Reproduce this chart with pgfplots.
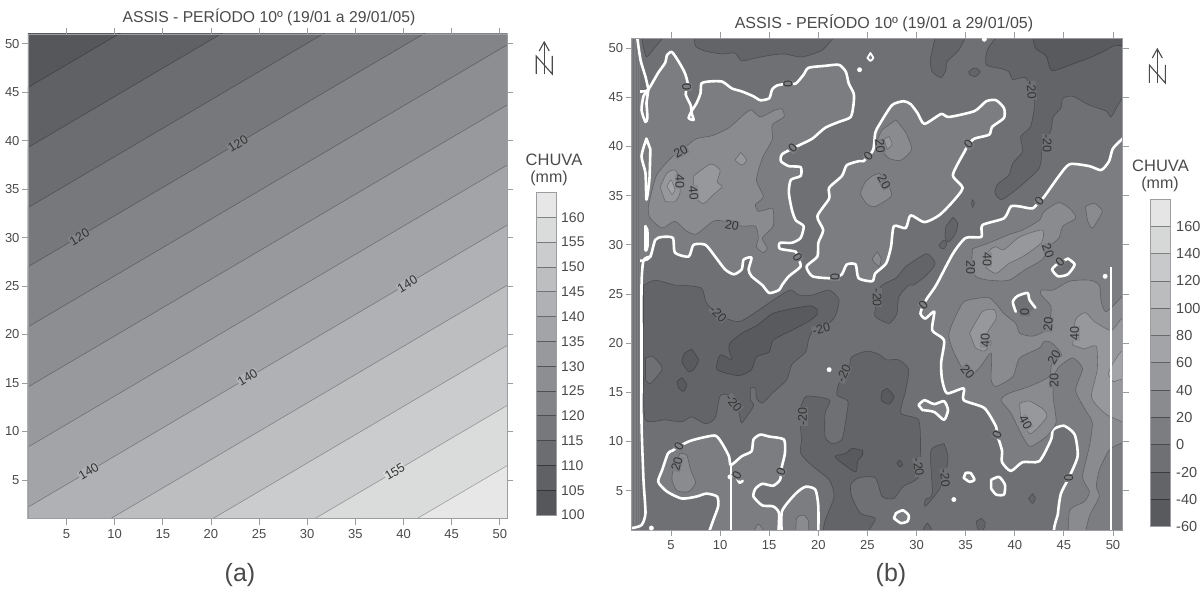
\documentclass[border=0pt]{standalone}
\usepackage{fontspec}
\setmainfont{Liberation Sans}
\usepackage{pgfplots}
\pgfplotsset{compat=1.18}
% left map bands (100-165 by 5)
\definecolor{LA0}{HTML}{56575A}\definecolor{LA1}{HTML}{606164}\definecolor{LA2}{HTML}{6C6D70}
\definecolor{LA3}{HTML}{77787B}\definecolor{LA4}{HTML}{838487}\definecolor{LA5}{HTML}{8D8E91}
\definecolor{LA6}{HTML}{98999C}\definecolor{LA7}{HTML}{A3A4A7}\definecolor{LA8}{HTML}{B0B1B4}
\definecolor{LA9}{HTML}{BDBEC0}\definecolor{LA10}{HTML}{CBCCCD}\definecolor{LA11}{HTML}{DADBDB}
\definecolor{LA12}{HTML}{E7E7E7}
% right map bands (-60..180 by 20)
\definecolor{Ra}{HTML}{595A5D}\definecolor{Rb}{HTML}{636467}\definecolor{Rc}{HTML}{6F7073}
\definecolor{Rd}{HTML}{7C7D80}\definecolor{Re}{HTML}{8A8B8E}\definecolor{Rf}{HTML}{97989B}
\definecolor{Rg}{HTML}{A3A4A7}\definecolor{Rh}{HTML}{AEAFB1}\definecolor{Ri}{HTML}{BBBCBD}
\definecolor{Rj}{HTML}{C8C9CA}\definecolor{Rk}{HTML}{D6D7D7}\definecolor{Rl}{HTML}{E5E5E5}
\definecolor{txt}{HTML}{4A4A4C}
\definecolor{fr}{HTML}{9C9DA0}
\pgfplotsset{
 mapax/.style={scale only axis, axis line style={fr,line width=.8pt}, tick style={fr,line width=.8pt},
   tick align=outside, tick pos=both, major tick length=6pt, xticklabel pos=bottom, yticklabel pos=left,
   xtick={5,10,...,50}, ytick={5,10,...,50},
   xticklabel style={font=\fontsize{13}{15}\selectfont,text=txt,yshift=-1pt},
   yticklabel style={font=\fontsize{13}{15}\selectfont,text=txt,xshift=1pt},
   /pgf/number format/assume math mode=true, axis on top},
 ctr/.style={draw=black,draw opacity=.28,line width=.6pt,line join=round,smooth,tension=.4},
 cb/.style={ctr,fill=Rb}, cbb/.style={ctr,fill=Ra}, chole/.style={ctr,fill=Rc},
 c2/.style={ctr,fill=Re}, c4/.style={ctr,fill=Rf}, c6/.style={ctr,fill=Rg},
 zr/.style={fill=Rd,draw=white,line width=2.6pt,line join=round,smooth,tension=.4},
 wl/.style={draw=white,line width=2.6pt,line join=round,line cap=round,smooth,tension=.4},
}
\newcommand\lb[5]{\node[rotate=#3,fill=#4,inner sep=.5pt,text=black!80,font=\fontsize{12.5}{13}\selectfont] at (axis cs:#1,#2) {#5};}
\begin{document}
\begin{tikzpicture}[x=1pt,y=1pt]
\path (0,0) rectangle (1204,593);
%=========================== LEFT MAP
\begin{axis}[mapax,at={(28pt,74.3pt)},anchor=south west,width=479pt,height=484.7pt,xmin=1,xmax=50.75,ymin=1,ymax=51]
\addplot[fill=LA0,draw=none] coordinates {(0,0)(52,0)(52,52)(0,52)} -- cycle;
\pgfplotsset{ll/.style={draw=black,draw opacity=.3,line width=.6pt}}
\addplot[ll,fill=LA1] coordinates {(0,44.9)(52,75.3)(52,-40)(0,-40)} -- cycle;
\addplot[ll,fill=LA2] coordinates {(0,38.7)(52,69.1)(52,-40)(0,-40)} -- cycle;
\addplot[ll,fill=LA3] coordinates {(0,32.5)(52,62.9)(52,-40)(0,-40)} -- cycle;
\addplot[ll,fill=LA4] coordinates {(0,26.4)(52,56.8)(52,-40)(0,-40)} -- cycle;
\addplot[ll,fill=LA5] coordinates {(0,20.2)(52,50.6)(52,-40)(0,-40)} -- cycle;
\addplot[ll,fill=LA6] coordinates {(0,14.0)(52,44.4)(52,-40)(0,-40)} -- cycle;
\addplot[ll,fill=LA7] coordinates {(0,7.8)(52,38.2)(52,-40)(0,-40)} -- cycle;
\addplot[ll,fill=LA8] coordinates {(0,1.6)(52,32.0)(52,-40)(0,-40)} -- cycle;
\addplot[ll,fill=LA9] coordinates {(0,-4.6)(52,25.8)(52,-40)(0,-40)} -- cycle;
\addplot[ll,fill=LA10] coordinates {(0,-10.8)(52,19.6)(52,-40)(0,-40)} -- cycle;
\addplot[ll,fill=LA11] coordinates {(0,-17.0)(52,13.4)(52,-40)(0,-40)} -- cycle;
\addplot[ll,fill=LA12] coordinates {(0,-23.2)(52,7.2)(52,-40)(0,-40)} -- cycle;
\lb{22.8}{39.7}{31}{LA4}{120}
\lb{6.35}{30.06}{31}{LA4}{120}
\lb{40.4}{25.2}{31}{LA8}{140}
\lb{23.8}{15.6}{31}{LA8}{140}
\lb{7.3}{5.9}{31}{LA8}{140}
\lb{39.1}{5.86}{31}{LA11}{155}
\end{axis}
%=========================== RIGHT MAP
\begin{axis}[mapax,at={(631.7pt,63pt)},anchor=south west,width=491.1pt,height=491.7pt,xmin=1,xmax=51,ymin=1,ymax=51]
\addplot[fill=Rc,draw=none] coordinates {(0,0)(52,0)(52,52)(0,52)} -- cycle;
% -20 regions
\addplot[cb] coordinates {(2.0,51.5)(2.1,50.5)(2.5,49.1)(3.3,50)(4.6,51.5)} -- cycle;
\addplot[cb] coordinates {(7.3,51.5)(7.5,50.2)(8.5,49.7)(10.2,49.4)(11.5,49.5)(12.2,48.7)(13.6,49.0)(15.3,49.3)(16.6,49.4)(18.3,49.1)(20.4,49.8)(21.9,51.5)} -- cycle;
\addplot[cb] coordinates {(32.0,51.5)(31.4,48.8)(31.6,47.6)(32.5,47.0)(33.0,47.8)(33.1,48.6)(34.3,49.8)(35.2,51.5)} -- cycle;
\addplot[cb] coordinates {(35.3,47.6)(35.9,48.0)(36.5,47.6)(36.0,47.1)(35.4,47.3)} -- cycle;
\addplot[cb] coordinates {(38.4,51.5)(37.2,49.8)(37.1,48.3)(38.7,47.9)(39.4,47.6)(39.8,46.8)(41.1,47.0)(41.8,45.4)(42.0,44.1)(41.6,42.0)(40.6,41.0)(40.8,39.5)(39.8,38.3)(39.4,37.1)(38.2,36.1)(38.0,35.2)(38.7,34.6)(40.5,35.9)(42.5,37.8)(42.8,39.7)(43.7,41.7)(43.9,43.0)(44.7,43.9)(44.9,44.9)(45.9,45.1)(47.6,44.2)(49.3,43.6)(49.8,43.0)(50.5,44.2)(51.2,45.3)(52,46)(52,52)} -- cycle;
\addplot[cbb] coordinates {(41.8,51.5)(42.1,50.0)(43.2,49.2)(43.8,47.7)(46.2,48.5)(47.6,49.0)(49.3,49.8)(50.0,50.2)(51.2,50.3)(52,50.5)(52,52)} -- cycle;
\addplot[cb] coordinates {(35.7,34.6)(35.9,34.2)(35.7,33.8)(35.6,34.2)} -- cycle;
\addplot[cb] coordinates {(33.7,32.8)(34.2,32.2)(34.0,31.2)(33.3,30.3)(32.9,30.8)(33.0,31.9)} -- cycle;
\addplot[cb] coordinates {(32.3,30.0)(32.8,30.5)(33.1,30.2)(32.8,29.6)(32.4,29.7)} -- cycle;
\addplot[cb] coordinates {(28.9,27.8)(31.0,29.1)(31.9,28.1)(31.0,26.9)(29.7,25.9)(29.2,25.9)(28.2,24.7)(28.0,23.0)(27.2,22.0)(25.8,22.7)(25.8,23.5)(26,25.1)(26.5,25.9)(27.9,26.6)} -- cycle;
\addplot[cb] coordinates {(2.2,25.9)(3.4,26.4)(5.4,25.9)(6.1,25.9)(8.1,25.6)(8.6,24.1)(9.8,23.0)(10.9,22.4)(12.0,22.2)(13.4,23.0)(15.0,24.1)(17.1,25.4)(18.0,24.9)(19.4,24.9)(21.1,25.4)(22.1,24.4)(21.7,22.7)(20.7,21.7)(19.4,21.2)(19.0,20.3)(18.7,19.1)(17.3,17.8)(16.8,16.3)(15.3,14.9)(14.3,13.9)(13.7,14.4)(13.6,15.4)(13.1,15.4)(13.1,14.2)(13.4,13.6)(12.2,11.9)(11.9,13.0)(10.9,14.7)(10.0,14.6)(9.5,12.4)(8.5,11.8)(7.1,12.5)(6.1,12.0)(4.4,12.2)(2.4,12.2)(2.2,16.3)(2.2,23.0)} -- cycle;
\addplot[chole] coordinates {(2.4,18.5)(3.2,18.6)(4.1,17.4)(2.9,15.9)(2.4,16.3)} -- cycle;
\addplot[cbb] coordinates {(19.9,23.4)(19.2,23.8)(17.3,23.5)(15.3,23.0)(13.9,21.9)(12.2,21.0)(11.0,20.0)(10.9,19.3)(11.2,18.3)(10.0,18.8)(9.7,17.3)(11.9,16.7)(13.2,17.3)(13.7,18.6)(15.0,19.1)(15.4,20.3)(17.3,21.3)(19.0,22.2)(19.9,22.9)} -- cycle;
\addplot[cbb] coordinates {(7.1,19.4)(7.8,18.3)(7.3,17.3)(6.8,17.1)(6.1,18.1)(6.4,19.0)} -- cycle;
\addplot[cbb] coordinates {(6.1,16.5)(6.6,15.8)(6.3,15.1)(5.8,15.4)(5.6,16.1)} -- cycle;
\addplot[cb] coordinates {(20.4,0.5)(20.7,2.0)(21.6,4.4)(21.1,6.1)(19.4,7.5)(18.2,8.8)(18.3,10.2)(18.2,11.2)(18.2,13.4)(18.8,14.6)(20.7,14.4)(21.2,14.1)(20.7,12.9)(20.7,10.5)(21.4,9.8)(22.4,10.2)(22.8,12.2)(23.0,14.1)(21.9,14.7)(22.1,15.9)(23.1,17.3)(23.4,18.6)(25.0,19.2)(26.3,18.8)(26.9,18.3)(28.2,18.3)(29.2,17.3)(28.9,15.2)(28.4,12.9)(30.2,12.2)(30.4,9.5)(30.2,6.4)(28.6,5.4)(27.7,4.2)(26.5,4.4)(25.8,6.3)(24.1,6.3)(23.3,5.6)(23.4,4.4)(24.3,2.7)(25.8,2.2)(25.3,1.2)(25.1,0.5)} -- cycle;
\addplot[cbb] coordinates {(24.5,9.1)(23.4,9.3)(22.8,8.8)(21.7,8.5)(22.4,7.8)(23.8,6.9)(24.0,8.0)(24.5,8.6)} -- cycle;
\addplot[cbb] coordinates {(27.0,15.4)(27.7,14.6)(27.2,13.8)(26.4,14.2)(26.5,15.1)} -- cycle;
\addplot[cbb] coordinates {(28.0,7.8)(28.3,8.1)(28.6,7.6)(28.3,7.4)} -- cycle;
\addplot[cb] coordinates {(32.8,9.8)(33.2,8.5)(33.0,6.8)(32.3,5.1)(30.9,3.4)(30.9,4.1)(31.6,4.7)(31.4,8.8)(31.9,9.5)} -- cycle;
\addplot[cb] coordinates {(30.4,0.5)(31.1,1.7)(31.8,0.5)} -- cycle;
\addplot[cb] coordinates {(41.8,4.7)(42.1,4.2)(41.8,3.7)(41.4,4.2)} -- cycle;
\addplot[cb] coordinates {(36.6,2.2)(37.0,1.7)(36.7,0.8)(36.2,1.2)(36.1,1.9)} -- cycle;
% 0 contour regions (white)
\addplot[zr] coordinates {(0.7,45.6)(2.2,45.6)(2.7,45.8)(3.7,47.5)(4.4,48.5)(4.6,49.3)(5.1,49.6)(5.8,48.6)(6.4,47.5)(6.7,46.4)(6.5,45.3)(7.0,44.2)(7.1,43.4)(7.3,42.7)(6.8,42.9)(7.1,43.6)(7.6,44.4)(8.0,45.4)(8.1,46.4)(8.8,46.6)(10.2,46.6)(11.2,45.9)(12.2,45.6)(13.4,45.1)(14.1,44.7)(15.0,44.9)(15.3,45.8)(15.8,46.2)(16.9,46.4)(17.7,46.4)(18.5,47.3)(19.0,48.0)(20.7,48.2)(22.1,48.3)(22.8,47.6)(23.1,46.4)(23.6,45.4)(23.6,44.4)(23.3,43.0)(22.1,42.5)(20.7,41.9)(19.4,40.8)(18.2,40.2)(17.4,39.8)(16.3,39.2)(16.2,38.5)(17.0,38.0)(18.2,37.9)(18.2,37.0)(17.2,36.6)(17.0,35.3)(17.3,33.6)(17.7,32.5)(18.5,31.9)(18.2,30.7)(17.3,30.2)(16.1,30.2)(16.1,29.6)(17.7,29.3)(17.9,28.7)(18.2,27.8)(17.0,26.8)(16.3,25.9)(16.0,25.4)(15.0,25.1)(14.3,25.9)(13.2,26.8)(12.9,27.5)(13.2,28.7)(12.4,28.5)(12.2,27.5)(11.4,27.0)(10.5,27.5)(9.5,28.8)(8.5,30.0)(7.3,30.0)(6.8,28.8)(5.4,29.2)(5.2,30.7)(4.1,30.8)(3.4,30.5)(2.9,28.8)(2.2,28.4)(0.7,28.4)} -- cycle;
\addplot[zr] coordinates {(24.6,38.5)(24.1,38.5)(22.9,38.1)(22.4,37.0)(21.1,35.8)(21.1,34.7)(19.9,32.9)(20.5,31.5)(20.0,30.2)(19.9,28.8)(18.8,27.8)(19.4,26.8)(21.1,26.6)(21.7,26.7)(22.4,27.0)(22.9,28.0)(23.8,28.0)(24.1,26.6)(25.5,26.3)(25.8,27.1)(26.9,28.1)(27.4,29.8)(27.7,31.9)(28.9,31.7)(29.4,33.0)(30.8,32.3)(32.3,33.0)(33.7,34.4)(34.7,35.8)(33.7,37.1)(34.9,39.5)(35.3,40.2)(35.9,40.8)(37.4,41.2)(37.7,42.0)(38.9,42.9)(38.9,43.9)(38.1,44.7)(37.1,44.6)(35.9,43.6)(33.3,43.0)(32.5,43.3)(30.8,42.3)(30.1,43.4)(29.4,44.3)(28.7,44.6)(27.5,44.2)(26.2,42.2)(25.8,41.4)(25.6,39.7)(25.1,39.0)} -- cycle;
\addplot[zr] coordinates {(51.2,41.0)(50.0,39.8)(49.6,38.5)(48.8,37.6)(47.6,38.0)(45.6,38.2)(44.5,37.0)(43.0,34.9)(42.5,34.4)(41.8,33.7)(40.5,33.9)(39.6,33.9)(38.9,32.7)(36.7,32.0)(36.6,30.8)(35.0,30.7)(33.7,29.1)(32.0,25.9)(31.1,24.6)(30.7,23.9)(30.4,23.0)(30.9,22.5)(31.8,23.2)(31.6,21.3)(32.8,20.3)(32.5,18.0)(32.6,16.3)(33.1,14.9)(34.8,15.4)(34.8,14.2)(36.9,13.4)(38.1,11.5)(38.2,10.7)(38.7,9.1)(38.7,7.9)(39.6,7.0)(40.8,7.9)(42.5,8.0)(43.7,10.2)(43.9,11.2)(45.0,11.6)(46.1,10.7)(46.4,8.5)(45.5,6.3)(44.7,4.7)(44.4,2.7)(44.4,0.3)(52.5,0.3)(52.5,41.5)} -- cycle;
\addplot[zr] coordinates {(8.7,0.3)(9.3,2.0)(9.8,3.4)(9.7,4.4)(8.6,4.7)(7.6,4.4)(6.1,4.2)(4.6,4.9)(3.7,5.9)(4.1,7.1)(4.7,8.8)(5.2,9.1)(5.8,9.5)(6.8,10.0)(7.8,10.3)(9.5,10.6)(10.2,9.8)(10.9,8.5)(11.1,7.6)(12.2,8.5)(13.2,9.0)(13.4,10.2)(14.1,10.7)(15.0,10.5)(16.5,10.2)(16.6,8.8)(16.3,7.5)(16.2,6.9)(16.1,6.1)(15.4,5.5)(14.3,5.7)(13.6,5.2)(13.4,4.4)(14.3,3.5)(15.4,3.4)(16.0,2.7)(15.9,0.3)} -- cycle;
\addplot[zr] coordinates {(16.3,0.3)(16.3,2.9)(17.7,4.7)(18.7,5.4)(19.7,5.1)(20.0,3.4)(20.0,0.3)} -- cycle;
\addplot[zr] coordinates {(30.2,13.7)(30.8,14.2)(31.8,13.8)(32.8,14.1)(33.2,13.2)(32.8,12.2)(31.8,13.0)(30.6,13.2)} -- cycle;
\addplot[zr] coordinates {(35.0,6.8)(35.5,6.8)(35.9,6.1)(35.4,5.9)(34.8,6.3)} -- cycle;
\addplot[zr] coordinates {(37.6,6.1)(38.4,6.4)(39.0,5.6)(38.9,4.6)(38.1,4.6)(37.6,5.2)} -- cycle;
\addplot[zr] coordinates {(27.9,2.7)(28.6,3.0)(29.2,2.5)(29.1,1.9)(28.4,1.7)(27.7,2.2)} -- cycle;
\addplot[zr,line width=1.8pt] coordinates {(25.3,49.5)(25.6,49.0)(25.3,48.7)(25.0,49.0)} -- cycle;
% holes below zero with white arcs
\addplot[fill=Rc,draw=none,smooth,tension=.4] coordinates {(40.1,23.2)(39.8,24.2)(40.3,24.8)(41.3,25.1)(41.5,24.4)(42.1,23.6)(41.0,22.9)} -- cycle;
\addplot[wl] coordinates {(40.1,23.2)(39.8,24.2)(40.3,24.8)(41.3,25.1)(41.5,24.4)(42.1,23.6)};
\addplot[zr,fill=Rc] coordinates {(45.4,28.6)(46.1,28.0)(45.4,27.0)(44.4,26.8)(43.8,27.5)(44.4,28.1)} -- cycle;
% left strip
\addplot[fill=Rd,draw=none] coordinates {(0,0)(1.85,0)(1.85,52)(0,52)} -- cycle;
\addplot[Rc,line width=.6pt] coordinates {(1.2,1)(1.2,51)};
\addplot[Rc,line width=.6pt] coordinates {(1.45,1)(1.45,51)};
\addplot[Rc,line width=.6pt] coordinates {(1.7,1)(1.7,51)};
% white lines near the left edge and the artefact lines
\addplot[wl] coordinates {(1.5,51.5)(1.9,48.8)(2.4,47.1)(2.7,45.8)};
\addplot[wl] coordinates {(2.9,28.8)(2.2,28.4)(2.0,25.9)(2.0,18.0)(2.0,11.9)(2.2,6.1)(2.4,2.7)(2.0,1.5)(1.07,1.2)};
\addplot[wl,fill=Rd] coordinates {(2.7,45.8)(2.2,45.1)(2.0,43.7)(2.4,42.5)(2.6,42.9)(2.5,44.4)} -- cycle;
\addplot[wl,fill=Rd] coordinates {(2.5,40.8)(2.0,39.0)(2.4,37.3)(2.5,34.6)(2.8,36.6)(2.9,39.7)} -- cycle;
\addplot[wl,fill=Rd] coordinates {(2.4,31.9)(2.4,29.5)(2.6,29.8)(2.6,31.5)} -- cycle;
\addplot[black!55,line width=1pt] coordinates {(2.5,10.7)(2.5,8.1)};
\addplot[wl] coordinates {(11.1,7.6)(11.1,0.3)};
\addplot[wl] coordinates {(11.7,6.3)(12.0,5.8)(12.3,6.0)};
\addplot[only marks,mark=*,mark size=2.2pt,mark options={fill=white,draw=white}] coordinates {(33.8,4.1)(21.1,17.3)(24.2,47.8)(36.9,50.9)(49.2,26.8)(3.0,1.2)(11.0,6.4)};
% +20 regions
\addplot[c2] coordinates {(5.4,39.2)(4.7,38.5)(3.5,37.0)(2.7,33.9)(2.9,32.7)(4.1,31.7)(5.4,32.4)(6.6,31.4)(7.6,31.1)(9.3,32.4)(10.5,32.4)(12.2,31.9)(13.6,31.9)(13.9,30.7)(13.7,29.8)(14.4,29.2)(14.8,29.7)(14.3,30.7)(15.4,31.9)(15.4,33.6)(15.1,33.7)(13.9,33.4)(13.6,34.1)(14.4,34.9)(13.7,36.6)(14.3,38.8)(15.3,40.7)(15.3,42.2)(16.5,43.0)(16.3,43.8)(15.6,43.7)(14.1,43.0)(13.2,43.7)(12.6,43.4)(10.9,41.9)(9.2,41.1)(7.6,40.8)(6.8,40.2)} -- cycle;
\addplot[c4] coordinates {(3.9,35.9)(4.6,37.3)(5.4,37.6)(5.9,36.6)(5.9,35.2)(5.4,34.4)(4.4,34.4)} -- cycle;
\addplot[c6] coordinates {(4.6,35.9)(5.0,36.6)(5.4,35.6)(5.1,35.1)} -- cycle;
\addplot[c4] coordinates {(7.3,37.0)(9.0,38.2)(10.0,37.6)(9.7,36.4)(10.2,35.9)(9.3,35.1)(8.3,34.2)(7.3,34.9)} -- cycle;
\addplot[c4] coordinates {(12.1,39.4)(12.7,38.6)(12.2,38.1)(11.5,38.6)} -- cycle;
\addplot[c2] coordinates {(27.9,42.7)(28.9,41.4)(29.5,39.7)(28.4,38.6)(27.2,38.8)(26.2,39.8)(25.8,40.2)(26.5,41.7)} -- cycle;
\addplot[c4] coordinates {(26.7,40.7)(27.2,41.0)(27.5,40.2)(27.0,39.7)} -- cycle;
\addplot[c2] coordinates {(26.2,37.3)(27.2,35.9)(27.4,34.9)(25.8,33.9)(25.0,34.1)(24.3,35.2)(24.8,36.4)(25.5,37.0)} -- cycle;
\addplot[c2] coordinates {(26.0,29.3)(25.5,28.5)(26.2,27.8)(26.4,28.6)} -- cycle;
\addplot[c2] coordinates {(35.7,29.6)(37.4,30.2)(39.3,31.0)(40.8,31.5)(42.5,32.5)(43.0,33.4)(44.5,34.3)(45.7,33.6)(46.2,32.7)(44.9,31.9)(44.5,30.7)(43.5,29.8)(42.8,28.5)(41.1,27.5)(39.4,26.4)(37.4,26.4)(36.0,26.8)(35.6,28.1)} -- cycle;
\addplot[c4] coordinates {(37.6,29.6)(38.1,29.8)(38.9,29.5)(40.5,30.8)(42.8,31.5)(42.7,30.2)(40.8,28.8)(39.4,28.1)(38.1,27.1)(37.0,27.8)(36.9,28.8)} -- cycle;
\addplot[c2] coordinates {(47.2,33.9)(48.1,34.2)(48.9,33.4)(47.9,31.7)(47.4,32.5)} -- cycle;
\addplot[c2] coordinates {(45.5,0.3)(45.6,3.0)(47.1,3.9)(47.6,4.9)(46.9,6.4)(47.6,9.5)(47.9,11.9)(47.2,13.2)(46.2,15.2)(46.9,17.4)(45.9,18.5)(44.5,17.6)(44.0,16.6)(43.9,14.6)(44.2,11.9)(43.2,10.5)(41.6,9.5)(40.8,10.5)(39.6,12.9)(38.6,14.2)(39.4,14.9)(41.5,15.6)(43.5,16.6)(43.8,18.1)(44.8,18.8)(43.8,20.0)(43.0,20.2)(42.5,19.5)(40.5,18.5)(39.8,16.6)(38.1,15.6)(37.6,16.3)(37.6,19.0)(36.4,17.5)(35.2,16.6)(33.7,19.3)(33.3,21.0)(34.3,23.4)(35.0,24.3)(37.4,24.6)(38.9,23.0)(40.1,22.0)(40.5,21.0)(41.8,20.7)(43.0,21.2)(43.5,22.0)(43.7,23.7)(42.7,24.9)(42.7,25.4)(43.9,25.4)(45.6,26.3)(47.6,26.4)(48.6,25.9)(48.8,24.2)(49.3,23.2)(50.8,24.6)(51.3,25.1)(52,25)(52,9.8)(50.8,9.8)(49.6,9.1)(48.6,7.1)(48.3,5.4)(48.6,4.4)(47.6,2.4)(47.1,0.3)} -- cycle;
\addplot[c4] coordinates {(35.4,21.0)(36.7,23.2)(37.9,23.4)(38.1,22.5)(37.2,21.0)(37.6,20.0)(36.9,19.2)(36.0,19.5)} -- cycle;
\addplot[c4] coordinates {(40.5,13.9)(41.5,14.1)(43.0,13.2)(43.2,12.4)(41.6,10.8)(40.6,12.2)} -- cycle;
\addplot[c4] coordinates {(45.9,19.8)(46.2,22.4)(47.2,23.1)(48.1,22.2)(49.8,21.3)(50.8,22.4)(52,23)(52,12.5)(49.8,12.5)(48.6,13.4)(47.8,14.6)(48.4,17.3)(48.3,19.7)(47.1,19.4)} -- cycle;
\addplot[c6] coordinates {(49.8,17.6)(50.8,19.1)(52,19.5)(52,16)(50.8,16.3)(50.0,16.1)(49.5,16.9)} -- cycle;
\addplot[c2] coordinates {(5.9,8.8)(6.6,8.6)(7.0,7.1)(7.5,5.8)(6.8,4.9)(5.6,5.0)(5.1,6.1)(5.2,7.1)} -- cycle;
\addplot[c2] coordinates {(17.7,0.3)(17.8,2.2)(18.5,2.5)(19.0,1.9)(19.0,0.3)} -- cycle;
\addplot[c2] coordinates {(13.2,0.3)(13.9,1.6)(14.8,0.3)} -- cycle;
\addplot[white,line width=2.6pt] coordinates {(49.8,27.7)(49.8,0.3)};
% labels
\lb{6.6}{46.0}{-90}{Rd}{0}\lb{16.9}{46.4}{-90}{Rd}{0}\lb{17.4}{39.8}{45}{Rd}{0}\lb{25.1}{39.0}{50}{Rd}{0}
\lb{17.9}{28.7}{-60}{Rd}{0}\lb{21.7}{26.7}{-90}{Rd}{0}\lb{35.3}{40.2}{50}{Rd}{0}\lb{42.5}{34.4}{50}{Rd}{0}
\lb{44.6}{28.3}{45}{Rd}{0}\lb{30.7}{23.9}{50}{Rd}{0}\lb{41.0}{23.2}{-90}{Rc}{0}\lb{38.2}{10.7}{70}{Rd}{0}
\lb{45.5}{6.3}{-90}{Rd}{0}\lb{5.8}{9.5}{60}{Rd}{0}\lb{11.7}{6.6}{60}{Rd}{0}\lb{16.2}{6.9}{70}{Rd}{0}
\lb{6.0}{39.5}{30}{Rd}{20}\lb{11.2}{32.0}{-10}{Rd}{20}\lb{5.9}{36.4}{-90}{Re}{40}\lb{7.3}{35.3}{-85}{Re}{40}
\lb{26.3}{40.0}{-85}{Rd}{20}\lb{26.7}{36.4}{-60}{Rd}{20}\lb{41.7}{45.7}{-85}{Rc}{-20}\lb{43.3}{40.3}{-90}{Rc}{-20}
\lb{35.5}{27.7}{-90}{Rd}{20}\lb{37.2}{28.5}{-90}{Re}{40}\lb{43.4}{29.4}{-70}{Rd}{20}
\lb{9.8}{23.0}{-45}{Rc}{-20}\lb{20.3}{21.4}{15}{Rc}{-20}\lb{22.6}{16.9}{65}{Rc}{-20}\lb{11.4}{13.9}{-50}{Rc}{-20}
\lb{18.4}{12.5}{90}{Rc}{-20}\lb{5.6}{7.7}{75}{Rd}{20}\lb{26.0}{24.6}{-90}{Rc}{-20}
\lb{37.0}{20.3}{90}{Re}{40}\lb{35.2}{17.1}{-50}{Rd}{20}\lb{43.4}{21.9}{85}{Rd}{20}\lb{46.1}{21.0}{90}{Re}{40}
\lb{44.0}{18.6}{60}{Rd}{20}\lb{44.0}{16.2}{90}{Rd}{20}\lb{41.1}{11.9}{-60}{Re}{40}
\lb{30.2}{7.4}{-80}{Rc}{-20}\lb{32.9}{6.3}{-85}{Rc}{-20}
\end{axis}
%=========================== TITLES
\node[text=txt,font=\fontsize{15.7}{17}\selectfont] at (269,576) {ASSIS - PERÍODO 10º (19/01 a 29/01/05)};
\node[text=txt,font=\fontsize{16}{17}\selectfont] at (884,570) {ASSIS - PERÍODO 10º (19/01 a 29/01/05)};
\node[text=txt,font=\fontsize{25}{27}\selectfont] at (240,18) {(a)};
\node[text=txt,font=\fontsize{25}{27}\selectfont] at (891,18) {(b)};
%=========================== LEFT LEGEND
\foreach \i/\c in {0/LA0,1/LA1,2/LA2,3/LA3,4/LA4,5/LA5,6/LA6,7/LA7,8/LA8,9/LA9,10/LA10,11/LA11,12/LA12}{
  \fill[\c] (536.5,{78+\i*24.8}) rectangle (556.5,{78+(\i+1)*24.8});
  \draw[black,opacity=.4,line width=.8pt] (536.5,{78+\i*24.8}) -- (556.5,{78+\i*24.8});
}
\draw[fr,line width=.7pt] (536.5,78) rectangle (556.5,400.4);
\foreach \i/\t in {0/100,1/105,2/110,3/115,4/120,5/125,6/130,7/135,8/140,9/145,10/150,11/155,12/160}{
  \node[anchor=west,inner sep=0pt,text=txt,font=\fontsize{14}{16}\selectfont] at (561,{78+\i*24.8}) {\t};
}
\node[text=txt,font=\fontsize{16.5}{17}\selectfont] at (554,433) {CHUVA};
\node[text=txt,font=\fontsize{16}{17}\selectfont] at (549,415) {(mm)};
%=========================== RIGHT LEGEND
\foreach \i/\c in {0/Ra,1/Rb,2/Rc,3/Rd,4/Re,5/Rf,6/Rg,7/Rh,8/Ri,9/Rj,10/Rk,11/Rl}{
  \fill[\c] (1150.5,{66.3+\i*27.3}) rectangle (1170.5,{66.3+(\i+1)*27.3});
  \draw[black,opacity=.4,line width=.8pt] (1150.5,{66.3+\i*27.3}) -- (1170.5,{66.3+\i*27.3});
}
\draw[fr,line width=.7pt] (1150.5,66.3) rectangle (1170.5,393.9);
\foreach \i/\t in {0/-60,1/-40,2/-20,3/0,4/20,5/40,6/60,7/80,8/100,9/120,10/140,11/160}{
  \node[anchor=west,inner sep=0pt,text=txt,font=\fontsize{14.5}{16}\selectfont] at (1176,{66.3+\i*27.3}) {\t};
}
\node[text=txt,font=\fontsize{16.5}{17}\selectfont] at (1160.5,427.3) {CHUVA};
\node[text=txt,font=\fontsize{16}{17}\selectfont] at (1160,409) {(mm)};
%=========================== NORTH ARROWS
\foreach \x/\ytop/\yn in {544.2/551/537,1157.3/544/528}{
  \draw[txt,line width=1.1pt] (\x,\ytop) -- (\x,\yn-18);
  \draw[txt,line width=1.1pt] (\x-5,\ytop-9) -- (\x,\ytop) -- (\x+5,\ytop-9);
  \draw[txt,line width=1.1pt,line join=miter] (\x-8,\yn-18) -- (\x-8,\yn) -- (\x+8,\yn-18) -- (\x+8,\yn);
}
\end{tikzpicture}
\end{document}
